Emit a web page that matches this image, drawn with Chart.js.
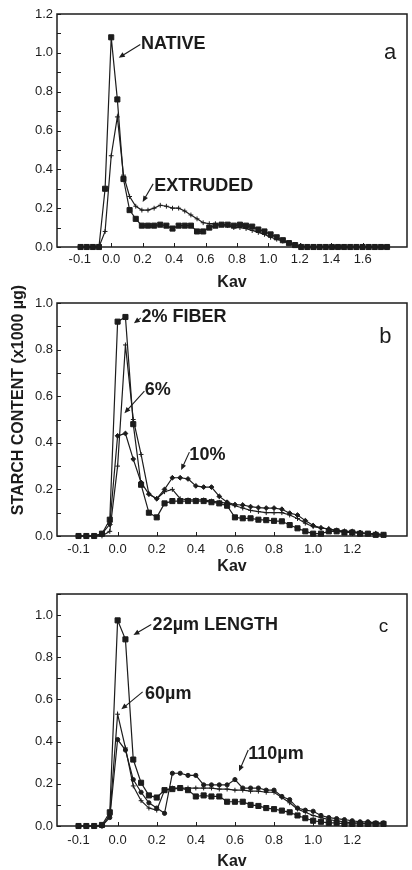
<!DOCTYPE html>
<html><head><meta charset="utf-8">
<script src="https://cdn.jsdelivr.net/npm/chart.js@4.4.1/dist/chart.umd.min.js"></script>
<style>
html,body{margin:0;padding:0;background:#fff;}
body{width:412px;height:870px;position:relative;overflow:hidden;}
.p{position:absolute;left:0;width:412px;}
</style></head>
<body>
<div class="p" style="top:0;height:295px"><canvas id="ca"></canvas></div>
<div class="p" style="top:278px;height:302px"><canvas id="cb"></canvas></div>
<div class="p" style="top:580px;height:290px"><canvas id="cc"></canvas></div>
<script>
// ---------- data ----------
const kavA = [-0.195,-0.156,-0.117,-0.078,-0.039,0,0.039,0.078,0.117,0.156,0.195,0.234,0.273,0.312,0.351,0.39,0.429,0.468,0.507,0.546,0.585,0.624,0.663,0.702,0.741,0.78,0.819,0.858,0.897,0.936,0.975,1.014,1.053,1.092,1.131,1.17,1.209,1.248,1.287,1.326,1.365,1.404,1.443,1.482,1.521,1.56,1.599,1.638,1.677,1.716,1.755];
const nativeA = [0,0,0,0,0.30,1.08,0.76,0.35,0.19,0.145,0.11,0.11,0.11,0.115,0.11,0.095,0.11,0.11,0.11,0.08,0.08,0.10,0.11,0.115,0.115,0.11,0.115,0.11,0.105,0.09,0.08,0.065,0.05,0.035,0.02,0.01,0,0,0,0,0,0,0,0,0,0,0,0,0,0,0];
const extrudedA = [0,0,0,0,0.08,0.47,0.67,0.37,0.26,0.21,0.19,0.19,0.20,0.215,0.21,0.20,0.20,0.185,0.165,0.145,0.125,0.12,0.12,0.115,0.11,0.10,0.10,0.095,0.085,0.075,0.065,0.05,0.04,0.03,0.02,0.01,0.005,0,0,0,0,0,0,0,0,0,0,0,0,0,0];

const kavBC = [-0.2,-0.16,-0.12,-0.08,-0.04,0,0.04,0.08,0.12,0.16,0.2,0.24,0.28,0.32,0.36,0.4,0.44,0.48,0.52,0.56,0.6,0.64,0.68,0.72,0.76,0.8,0.84,0.88,0.92,0.96,1.0,1.04,1.08,1.12,1.16,1.2,1.24,1.28,1.32,1.36];
const fiber2 = [0,0,0,0.01,0.07,0.92,0.94,0.48,0.22,0.10,0.08,0.14,0.15,0.15,0.15,0.15,0.15,0.145,0.14,0.13,0.08,0.076,0.076,0.07,0.068,0.065,0.063,0.047,0.033,0.02,0.01,0.01,0.02,0.02,0.015,0.015,0.01,0.01,0.005,0.005];
const fiber6 = [0,0,0,0,0.02,0.30,0.82,0.50,0.35,0.18,0.16,0.19,0.20,0.16,0.155,0.155,0.155,0.15,0.145,0.14,0.13,0.12,0.11,0.105,0.10,0.10,0.10,0.09,0.075,0.055,0.04,0.035,0.03,0.02,0.02,0.015,0.015,0.01,0.01,0.005];
const fiber10 = [0,0,0,0.01,0.05,0.43,0.44,0.33,0.23,0.18,0.16,0.20,0.25,0.25,0.245,0.215,0.21,0.21,0.17,0.145,0.135,0.133,0.126,0.122,0.12,0.12,0.115,0.098,0.09,0.066,0.045,0.035,0.03,0.025,0.02,0.02,0.015,0.01,0.01,0.005];
const len22 = [0,0,0,0.005,0.065,0.975,0.885,0.315,0.205,0.145,0.135,0.17,0.175,0.18,0.17,0.14,0.145,0.14,0.14,0.115,0.115,0.115,0.10,0.095,0.085,0.08,0.073,0.065,0.05,0.037,0.025,0.02,0.015,0.015,0.01,0.01,0.01,0.01,0.01,0.01];
const len60 = [0,0,0,0,0.05,0.53,0.37,0.19,0.12,0.085,0.075,0.17,0.18,0.18,0.18,0.18,0.18,0.18,0.175,0.175,0.17,0.17,0.165,0.165,0.16,0.16,0.135,0.11,0.08,0.065,0.05,0.04,0.03,0.025,0.02,0.015,0.015,0.01,0.01,0.01];
const len110 = [0,0,0,0,0.04,0.41,0.36,0.22,0.16,0.11,0.085,0.06,0.25,0.25,0.24,0.24,0.195,0.195,0.195,0.195,0.22,0.18,0.18,0.18,0.17,0.17,0.14,0.125,0.085,0.075,0.07,0.05,0.04,0.035,0.03,0.025,0.02,0.02,0.015,0.015];

const xTickValsA = [-0.2,0,0.2,0.4,0.6,0.8,1.0,1.2,1.4,1.6];
const xTickLabelsA = ['-0.1','0.0','0.2','0.4','0.6','0.8','1.0','1.2','1.4','1.6'];
const xTickValsBC = [-0.2,0,0.2,0.4,0.6,0.8,1.0,1.2];
const xTickLabelsBC = ['-0.1','0.0','0.2','0.4','0.6','0.8','1.0','1.2'];
const yTickValsA = [0,0.2,0.4,0.6,0.8,1.0,1.2];
const yTickValsBC = [0,0.2,0.4,0.6,0.8,1.0];

// ---------- styling ----------
const INK = '#1c1c1c';
const FAM = '"Liberation Sans", Arial, Helvetica, sans-serif';

const styles = {
  square: {pointStyle:'rect', pointRadius:3.6, pointBorderWidth:1},
  plus:   {pointStyle:'cross', pointRadius:2.4, pointBorderWidth:1},
  diamond:{pointStyle:'rectRot', pointRadius:2.4, pointBorderWidth:1},
  dot:    {pointStyle:'circle', pointRadius:2.1, pointBorderWidth:1}
};

function series(label, xs, ys, st) {
  return Object.assign({
    label, data: xs.map((x,i)=>({x, y: ys[i]})),
    borderColor: INK, backgroundColor: INK, pointBackgroundColor: INK, pointBorderColor: INK,
    borderWidth: 1.2, tension: 0, clip: false
  }, styles[st]);
}

const framePlugin = {
  id: 'frame',
  beforeDatasetsDraw(chart, args, opts) {
    const {ctx, chartArea: a, scales: {x, y}} = chart;
    ctx.save();
    ctx.strokeStyle = INK; ctx.lineWidth = 1.5;
    ctx.strokeRect(a.left, a.top, a.right - a.left, a.bottom - a.top);
    ctx.lineWidth = 1;
    ctx.beginPath();
    x.ticks.forEach(t => {
      if (t.value < 0) return;
      const px = Math.round(x.getPixelForValue(t.value)) + 0.5;
      ctx.moveTo(px, a.bottom); ctx.lineTo(px, a.bottom - 4);
    });
    for (let v = 0; v <= y.max + 1e-9; v += 0.1) {
      const py = Math.round(y.getPixelForValue(v)) + 0.5;
      ctx.moveTo(a.left, py); ctx.lineTo(a.left + 4, py);
    }
    ctx.stroke();
    ctx.restore();
  },
  afterDatasetsDraw(chart, args, opts) {
    const {ctx, scales: {x, y}} = chart;
    ctx.save();
    ctx.fillStyle = INK; ctx.strokeStyle = INK;
    (opts.notes || []).forEach(n => {
      const tx = x.getPixelForValue(n.tx), ty = y.getPixelForValue(n.ty);
      ctx.font = (n.bold ? 'bold ' : '') + n.size + 'px ' + FAM;
      ctx.textAlign = n.align || 'left';
      ctx.textBaseline = 'middle';
      ctx.fillText(n.text, tx, ty);
      if (n.ax !== undefined) {
        const x1 = x.getPixelForValue(n.ax), y1 = y.getPixelForValue(n.ay);
        const x2 = x.getPixelForValue(n.bx), y2 = y.getPixelForValue(n.by);
        const ang = Math.atan2(y2 - y1, x2 - x1);
        const hl = 6, hw = 2.6;
        ctx.lineWidth = 1.1;
        ctx.beginPath(); ctx.moveTo(x1, y1);
        ctx.lineTo(x2 - Math.cos(ang) * hl * 0.8, y2 - Math.sin(ang) * hl * 0.8); ctx.stroke();
        ctx.beginPath();
        ctx.moveTo(x2, y2);
        ctx.lineTo(x2 - Math.cos(ang) * hl - Math.sin(ang) * hw, y2 - Math.sin(ang) * hl + Math.cos(ang) * hw);
        ctx.lineTo(x2 - Math.cos(ang) * hl + Math.sin(ang) * hw, y2 - Math.sin(ang) * hl - Math.cos(ang) * hw);
        ctx.closePath(); ctx.fill();
      }
    });
    if (opts.yTitle) {
      ctx.save();
      ctx.translate(opts.yTitle.px, opts.yTitle.py);
      ctx.rotate(-Math.PI / 2);
      ctx.font = 'bold 16px ' + FAM;
      ctx.textAlign = 'center'; ctx.textBaseline = 'middle';
      ctx.fillText(opts.yTitle.text, 0, 0);
      ctx.restore();
    }
    ctx.restore();
  }
};

function makeChart(id, p) {
  return new Chart(document.getElementById(id), {
    type: 'line',
    data: {datasets: p.datasets},
    plugins: [framePlugin],
    options: {
      animation: false, responsive: true, maintainAspectRatio: false,
      layout: {padding: {top: p.padTop, right: 2, left: 0, bottom: 0}},
      plugins: {legend: {display: false}, tooltip: {enabled: false}, frame: {notes: p.notes, yTitle: p.yTitle}},
      scales: {
        x: {
          type: 'linear', min: p.xmin, max: p.xmax,
          grid: {display: false, drawTicks: false}, border: {display: false},
          afterBuildTicks: s => { s.ticks = p.xVals.map(v => ({value: v})); },
          ticks: {callback: (v, i) => p.xLabels[i], autoSkip: false, maxRotation: 0,
                  font: {size: 13, family: FAM}, color: INK, padding: p.xPad},
          title: {display: true, text: 'Kav', color: INK,
                  font: {size: 16, weight: 'bold', family: FAM, lineHeight: 1},
                  padding: {top: 0, bottom: p.titlePad}},
          afterFit: s => { s.height = p.xH; }
        },
        y: {
          type: 'linear', min: 0, max: p.ymax,
          grid: {display: false, drawTicks: false}, border: {display: false},
          afterBuildTicks: s => { s.ticks = p.yVals.map(v => ({value: v})); },
          ticks: {callback: v => Number(v).toFixed(1), font: {size: 13, family: FAM}, color: INK, padding: 4},
          afterFit: s => { s.width = 57; }
        }
      }
    }
  });
}

makeChart('ca', {
  datasets: [series('NATIVE', kavA, nativeA, 'square'), series('EXTRUDED', kavA, extrudedA, 'plus')],
  padTop: 14, xH: 48, xPad: 4.5, titlePad: 4,
  xmin: -0.345, xmax: 1.882, ymax: 1.2,
  xVals: xTickValsA, xLabels: xTickLabelsA, yVals: yTickValsA,
  notes: [
    {text: 'NATIVE', bold: true, size: 18, tx: 0.189, ty: 1.043, ax: 0.185, ay: 1.043, bx: 0.048, by: 0.975},
    {text: 'EXTRUDED', bold: true, size: 18, tx: 0.273, ty: 0.312, ax: 0.267, ay: 0.325, bx: 0.2, by: 0.232},
    {text: 'a', size: 22, align: 'center', tx: 1.775, ty: 1.0}
  ]
});

makeChart('cb', {
  datasets: [series('2% FIBER', kavBC, fiber2, 'square'), series('6%', kavBC, fiber6, 'plus'), series('10%', kavBC, fiber10, 'diamond')],
  padTop: 25, xH: 44, xPad: 5.5, titlePad: 5,
  xmin: -0.31, xmax: 1.48, ymax: 1.0,
  xVals: xTickValsBC, xLabels: xTickLabelsBC, yVals: yTickValsBC,
  yTitle: {text: 'STARCH CONTENT (x1000 µg)', px: 19, py: 122},
  notes: [
    {text: '2% FIBER', bold: true, size: 18, tx: 0.1225, ty: 0.941, ax: 0.119, ay: 0.936, bx: 0.0835, by: 0.913},
    {text: '6%', bold: true, size: 18, tx: 0.139, ty: 0.627, ax: 0.137, ay: 0.622, bx: 0.035, by: 0.527},
    {text: '10%', bold: true, size: 18, tx: 0.367, ty: 0.348, ax: 0.367, ay: 0.36, bx: 0.325, by: 0.283},
    {text: 'b', size: 22, align: 'center', tx: 1.37, ty: 0.855}
  ]
});

makeChart('cc', {
  datasets: [series('22µm LENGTH', kavBC, len22, 'square'), series('60µm', kavBC, len60, 'plus'), series('110µm', kavBC, len110, 'dot')],
  padTop: 14, xH: 44, xPad: 7, titlePad: 0,
  xmin: -0.31, xmax: 1.48, ymax: 1.1,
  xVals: xTickValsBC, xLabels: xTickLabelsBC, yVals: yTickValsBC,
  notes: [
    {text: '22µm LENGTH', bold: true, size: 18, tx: 0.179, ty: 0.951, ax: 0.172, ay: 0.955, bx: 0.081, by: 0.906},
    {text: '60µm', bold: true, size: 18, tx: 0.140, ty: 0.627, ax: 0.128, ay: 0.636, bx: 0.019, by: 0.553},
    {text: '110µm', bold: true, size: 18, tx: 0.668, ty: 0.339, ax: 0.668, ay: 0.36, bx: 0.621, by: 0.259},
    {text: 'c', size: 19, align: 'center', tx: 1.36, ty: 0.943}
  ]
});
</script>
</body></html>
